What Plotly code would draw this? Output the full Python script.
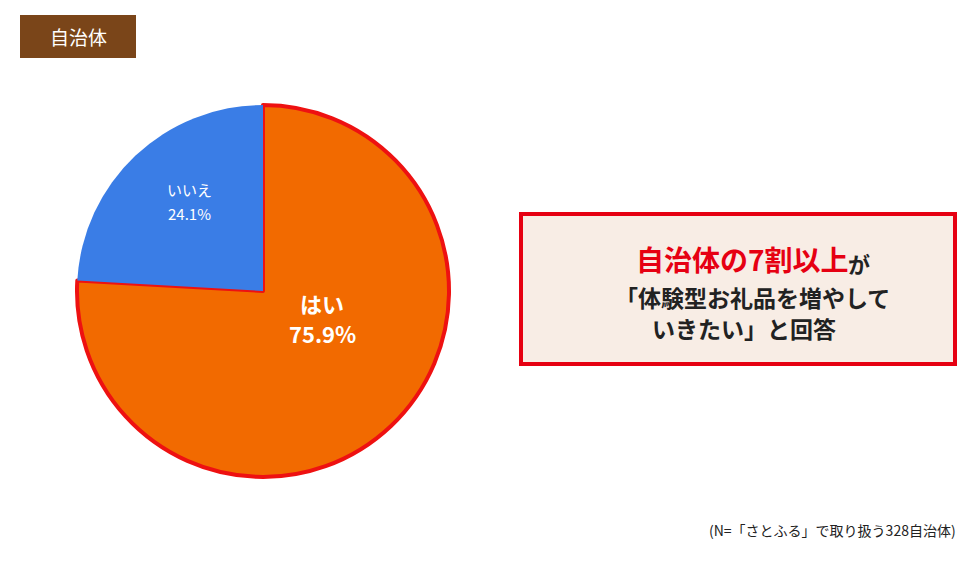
import plotly.graph_objects as go

labels = ["はい", "いいえ"]
values = [75.9, 24.1]
colors = ["#f26a00", "#3a7de6"]

W, H, OFF = 964, 546, 8
def px(X): return (X - OFF) / W
def py(Y): return 1 - (Y - OFF) / H

fig = go.Figure(go.Pie(
    labels=labels, values=values, sort=False, direction="clockwise", rotation=0,
    marker=dict(colors=colors, line=dict(color=["#ee1111", "#3a7de6"], width=[4, 0])),
    textinfo="none",
    domain=dict(x=[px(77), px(449)], y=[py(478), py(104)]),
    showlegend=False, hoverinfo="skip"))

ann = [
    dict(text="自治体", x=px(78), y=py(36), font=dict(color="white", size=19)),
    dict(text=f"<b>{labels[0]}</b>", x=px(322), y=py(303), font=dict(color="white", size=22)),
    dict(text=f"<b>{values[0]:.1f}%</b>", x=px(322), y=py(333), font=dict(color="white", size=22)),
    dict(text=labels[1], x=px(189), y=py(190), font=dict(color="white", size=15)),
    dict(text=f"{values[1]:.1f}%", x=px(189), y=py(213), font=dict(color="white", size=15)),
    dict(text="<b>自治体の7割以上</b>", x=px(851), y=py(259), xanchor="right",
         font=dict(color="#e60012", size=28)),
    dict(text="<b>が</b>", x=px(846), y=py(263), xanchor="left",
         font=dict(color="#222", size=22)),
    dict(text="<b>「体験型お礼品を増やして</b>", x=px(752), y=py(297),
         font=dict(color="#222", size=23)),
    dict(text="<b>いきたい」と回答</b>", x=px(744), y=py(328),
         font=dict(color="#222", size=23)),
    dict(text="(N=「さとふる」で取り扱う328自治体)", x=px(958), y=py(530), xanchor="right",
         font=dict(color="#222", size=14)),
]
for a in ann:
    a.setdefault("xanchor", "center")
    a.update(xref="paper", yref="paper", yanchor="middle", showarrow=False)

fig.update_layout(
    width=W, height=H, margin=dict(l=0, r=0, t=0, b=0),
    paper_bgcolor="white", plot_bgcolor="white",
    font=dict(family="Noto Sans CJK JP"),
    shapes=[
        dict(type="rect", xref="paper", yref="paper", x0=px(20), x1=px(136),
             y0=py(58), y1=py(15), fillcolor="#7a4519", line=dict(width=0)),
        dict(type="rect", xref="paper", yref="paper", x0=px(521), x1=px(955),
             y0=py(364), y1=py(214), fillcolor="#f8ede5", line=dict(color="#e60012", width=4)),
    ],
    annotations=ann)
fig.write_html("out.html")
